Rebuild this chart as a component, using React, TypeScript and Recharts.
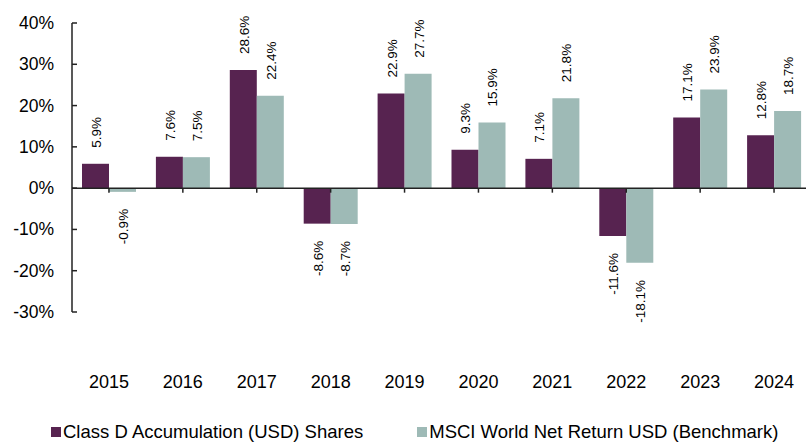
import { BarChart, Bar, XAxis, YAxis, ReferenceLine, LabelList } from 'recharts';

const years = ['2015', '2016', '2017', '2018', '2019', '2020', '2021', '2022', '2023', '2024'];
const classD = [5.9, 7.6, 28.6, -8.6, 22.9, 9.3, 7.1, -11.6, 17.1, 12.8];
const msci = [-0.9, 7.5, 22.4, -8.7, 27.7, 15.9, 21.8, -18.1, 23.9, 18.7];
const yTicks = [-30, -20, -10, 0, 10, 20, 30, 40];
const seriesNames = ['Class D Accumulation (USD) Shares', 'MSCI World Net Return USD (Benchmark)'];

const PURPLE = '#572350';
const TEAL = '#9EBAB6';
const FONT = '"Liberation Sans", Arial, sans-serif';

const data = years.map((year, i) => ({ year, classD: classD[i], msci: msci[i] }));

const YTick = (props: any) => {
  const { x, y, payload } = props;
  return (
    <g>
      <line x1={x} x2={x + 5} y1={y} y2={y} stroke="#222" strokeWidth={1.5} />
      <text x={x - 18} y={y} textAnchor="end" dominantBaseline="central" fontSize={17.5} fill="#000" fontFamily={FONT}>
        {payload.value}%
      </text>
    </g>
  );
};

const XTick = (props: any) => {
  const { x, y, payload } = props;
  return (
    <text x={x} y={y + 70} textAnchor="middle" dominantBaseline="central" fontSize={18} fill="#000" fontFamily={FONT}>
      {payload.value}
    </text>
  );
};

const BarLabel = (props: any) => {
  const { x, y, width, height, value } = props;
  const cx = x + width / 2 + 1;
  const top = Math.min(y, y + height);
  const bottom = Math.max(y, y + height);
  const pos = value >= 0;
  const ly = pos ? top - 16 : bottom + 17;
  return (
    <text
      x={cx}
      y={ly}
      transform={`rotate(-90, ${cx}, ${ly})`}
      textAnchor={pos ? 'start' : 'end'}
      dominantBaseline="central"
      fontSize={13.5}
      fill="#000"
      fontFamily={FONT}
    >
      {value.toFixed(1)}%
    </text>
  );
};

export default function App() {
  return (
    <div style={{ position: 'relative', width: 806, height: 446, overflow: 'hidden', background: '#fff', fontFamily: FONT }}>
      <style>{'body{margin:0}'}</style>
      <BarChart width={811} height={446} data={data} margin={{ top: 23, right: 0, left: 0, bottom: 0 }} barGap={0}>
        <XAxis dataKey="year" axisLine={false} tickLine={false} tickSize={0} tickMargin={0} height={134} tick={<XTick />} interval={0} />
        <YAxis
          domain={[-30, 40]}
          ticks={yTicks}
          width={72}
          axisLine={{ stroke: '#222', strokeWidth: 1.5 }}
          tickLine={false}
          tickSize={0}
          tickMargin={0}
          tick={<YTick />}
          interval={0}
        />
        <Bar dataKey="classD" fill={PURPLE} barSize={27} isAnimationActive={false}>
          <LabelList dataKey="classD" content={<BarLabel />} />
        </Bar>
        <Bar dataKey="msci" fill={TEAL} barSize={27} isAnimationActive={false}>
          <LabelList dataKey="msci" content={<BarLabel />} />
        </Bar>
        <ReferenceLine y={0} stroke="#222" strokeWidth={1.5} />
        {years.map((yr) => (
          <ReferenceLine
            key={yr}
            segment={[{ x: yr, y: 0 }, { x: yr, y: -1.1 }]}
            stroke="#222"
            strokeWidth={1.5}
          />
        ))}
      </BarChart>
      <div
        style={{
          position: 'absolute',
          left: 51,
          top: 421,
          display: 'flex',
          alignItems: 'center',
          fontSize: 18.5,
          color: '#000',
          whiteSpace: 'nowrap',
        }}
      >
        {seriesNames.map((name, i) => (
          <div key={name} style={{ display: 'flex', alignItems: 'center', marginRight: 54 }}>
            <span style={{ width: 10, height: 10, background: i === 0 ? PURPLE : TEAL, marginRight: 2, display: 'inline-block' }} />
            <span>{name}</span>
          </div>
        ))}
      </div>
    </div>
  );
}
